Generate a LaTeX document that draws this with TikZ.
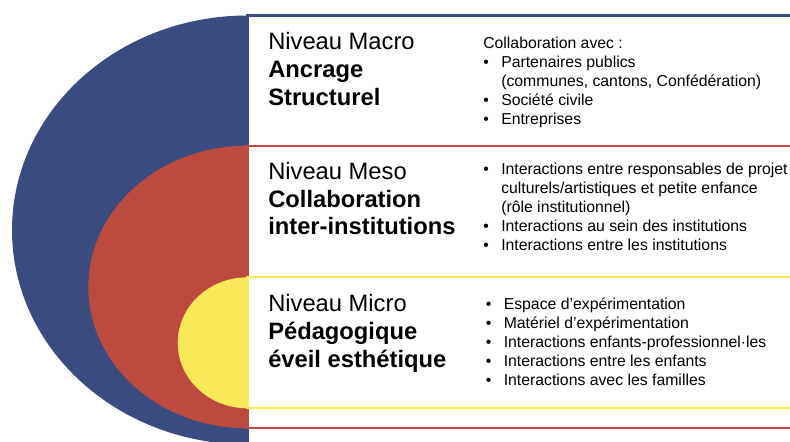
\documentclass[tikz,border=0pt]{standalone}
\usepackage{fontspec}
\setmainfont{Liberation Sans}
\usepackage{xcolor}
\usepackage{tikz}

\definecolor{macro blue}{RGB}{58,75,128}
\definecolor{meso red}{RGB}{188,74,62}
\definecolor{micro yellow}{RGB}{249,232,88}

\begin{document}
\begin{tikzpicture}[x=0.75pt,y=-0.75pt]
\useasboundingbox (0,0) rectangle (790,442);
\clip (0,0) rectangle (790,442);

\begin{scope}[every path/.style={line width=1.6pt}]
\fill[macro blue] (247.5,15.5) arc[start angle=270,end angle=90,x radius=235.5,y radius=214.5] -- cycle;
\draw[macro blue,fill=white] (247.5,15.5) rectangle (800,460);
\fill[meso red] (247.5,145.7) arc[start angle=270,end angle=90,x radius=159.2,y radius=141.3] -- cycle;
\draw[meso red,fill=white] (247.5,145.7) rectangle (800,428.3);
\fill[micro yellow] (247.5,277.3) arc[start angle=270,end angle=90,x radius=69.8,y radius=65.5] -- cycle;
\draw[micro yellow,fill=white] (247.5,277.3) rectangle (800,408.3);
\end{scope}

\begin{scope}[every node/.style={anchor=base west,inner sep=0pt},
  level/.style={font=\fontsize{17.8}{20.8}\selectfont},
  items/.style={font=\fontsize{11.85}{14.2}\selectfont}]
\node[level] (macro level) at (268,50) {\begin{tabular}[t]{@{}l@{}}Niveau Macro\\\textbf{Ancrage}\\\textbf{Structurel}\end{tabular}};
\node[level] (meso level) at (268,179.5) {\begin{tabular}[t]{@{}l@{}}Niveau Meso\\\textbf{Collaboration}\\\textbf{inter-institutions}\end{tabular}};
\node[level] (micro level) at (268,311.7) {\begin{tabular}[t]{@{}l@{}}Niveau Micro\\\textbf{Pédagogique}\\\textbf{éveil esthétique}\end{tabular}};

\node[items] (macro items) at (483,48.3) {\begin{tabular}[t]{@{}p{13.5pt}@{}l@{}}
\multicolumn{2}{@{}l@{}}{Collaboration avec :}\\
\textbullet & Partenaires publics\\
 & (communes, cantons, Confédération)\\
\textbullet & Société civile\\
\textbullet & Entreprises
\end{tabular}};
\node[items] (meso items) at (483,175) {\begin{tabular}[t]{@{}p{13.5pt}@{}l@{}}
\textbullet & Interactions entre responsables de projet\\
 & culturels/artistiques et petite enfance\\
 & (rôle institutionnel)\\
\textbullet & Interactions au sein des institutions\\
\textbullet & Interactions entre les institutions
\end{tabular}};
\node[items] (micro items) at (485.5,309.3) {\begin{tabular}[t]{@{}p{13.5pt}@{}l@{}}
\textbullet & Espace d’expérimentation\\
\textbullet & Matériel d’expérimentation\\
\textbullet & Interactions enfants-professionnel·les\\
\textbullet & Interactions entre les enfants\\
\textbullet & Interactions avec les familles
\end{tabular}};
\end{scope}

\end{tikzpicture}
\end{document}
